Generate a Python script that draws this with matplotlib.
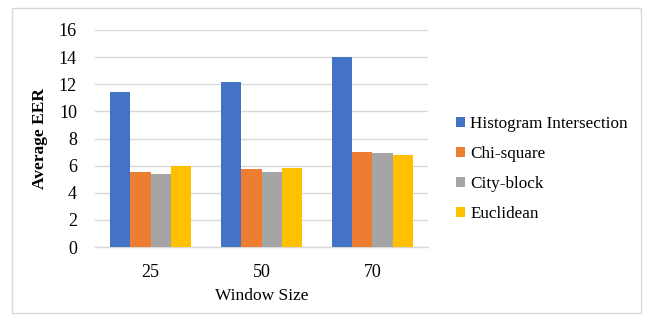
import matplotlib
matplotlib.use("Agg")
import matplotlib.pyplot as plt
from matplotlib.patches import Rectangle
import numpy as np

plt.rcParams['font.family'] = ['Liberation Serif', 'DejaVu Serif']

window_sizes = ["25", "50", "70"]
series_names = ["Histogram Intersection", "Chi-square", "City-block", "Euclidean"]
hist_intersection = [11.4, 12.15, 14.0]
chi_square = [5.55, 5.72, 7.02]
city_block = [5.35, 5.55, 6.92]
euclidean = [5.95, 5.83, 6.8]
colors = ["#4472C4", "#ED7D31", "#A5A5A5", "#FFC000"]
y_ticks = [0, 2, 4, 6, 8, 10, 12, 14, 16]

fig = plt.figure(figsize=(6.53, 3.21), dpi=100)
fig.patches.append(Rectangle((12 / 653, 1 - 313 / 321), (641 - 12) / 653, (313 - 8) / 321,
                             transform=fig.transFigure, fill=False,
                             edgecolor="#D9D9D9", linewidth=1.0, zorder=0))

ax = fig.add_axes([95 / 653, 1 - 247 / 321, (428 - 95) / 653, (247 - 30) / 321])

x = np.arange(len(window_sizes))
bar_w = 0.182
all_series = [hist_intersection, chi_square, city_block, euclidean]
for i, (vals, name, c) in enumerate(zip(all_series, series_names, colors)):
    ax.bar(x + (i - 1.5) * bar_w, vals, width=bar_w, color=c, label=name, zorder=3)

ax.set_xlim(-0.5, 2.5)
ax.set_ylim(0, 16)
ax.set_yticks(y_ticks)
ax.set_xticks(x)
ax.set_xticklabels(window_sizes)
ax.tick_params(axis="both", length=0, labelsize=13, colors="#000000")
ax.tick_params(axis="y", pad=13)
ax.tick_params(axis="x", pad=12)
ax.grid(axis="y", color="#D9D9D9", linewidth=1.0, zorder=0)
for side in ["top", "right", "left"]:
    ax.spines[side].set_visible(False)
ax.spines["bottom"].set_color("#D9D9D9")
ax.spines["bottom"].set_linewidth(1.0)

ax.set_ylabel("Average EER", fontsize=12.5, fontweight="bold", labelpad=8)
ax.set_xlabel("Window Size", fontsize=12.5, labelpad=5)

fig.legend(loc="upper left", bbox_to_anchor=(449 / 653, 1 - 109 / 321),
           frameon=False, fontsize=12.3, handlelength=0.55, handleheight=0.55,
           handletextpad=0.3, labelspacing=0.82, borderaxespad=0)

fig.savefig("out.png", dpi=100)
